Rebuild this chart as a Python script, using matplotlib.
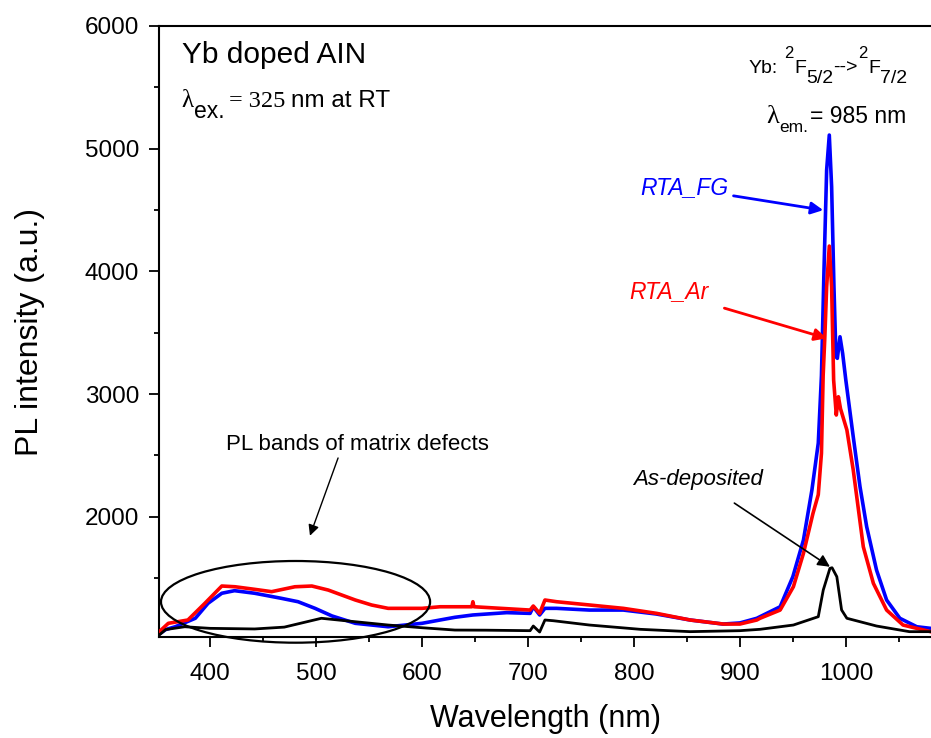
import matplotlib
matplotlib.use("Agg")
import matplotlib.pyplot as plt
from matplotlib.patches import Ellipse
from matplotlib.transforms import offset_copy

plt.rcParams['font.family'] = ['Liberation Sans', 'DejaVu Sans']

# ---- data ----
fg_x = [352, 358, 367, 386, 398, 411, 423, 442, 467, 483, 499, 515, 537, 568, 600,
        617, 631, 648, 680, 702, 705, 711, 716, 727, 758, 790, 821, 853, 884, 900,
        916, 919, 938, 950, 960, 968, 974, 977, 979.4, 981.9, 984.4, 986.6, 988.8,
        990.7, 992, 994.5, 997, 1000, 1007, 1013.4, 1019.7, 1029, 1038.5, 1051, 1067, 1080]
fg_y = [1044, 1080, 1103, 1172, 1294, 1376, 1397, 1376, 1335, 1307, 1253, 1191, 1131, 1103, 1131,
        1158, 1180, 1199, 1218, 1212, 1266, 1199, 1253, 1253, 1239, 1239, 1207, 1158, 1125, 1134,
        1172, 1185, 1266, 1511, 1810, 2218, 2600, 3150, 4011, 4826, 5111, 4690, 3874,
        3304, 3291, 3467, 3331, 3114, 2652, 2244, 1918, 1565, 1321, 1172, 1103, 1090]

ar_x = [352, 360.5, 379, 395, 411, 423.5, 442, 458, 480, 496, 511.5, 537, 552.5, 568, 600,
        617, 631, 647, 648, 649, 702, 705, 711, 716, 727, 758.5, 790, 821.5, 853, 884.4,
        900, 916, 919, 938, 950.5, 960, 969, 974, 977, 978.6, 980.2, 981.9, 984.4, 986.6,
        988.5, 991, 993, 995, 1001, 1007, 1016.5, 1026, 1038.5, 1054, 1080]
ar_y = [1063, 1131, 1158, 1294, 1435, 1429, 1408, 1389, 1429, 1435, 1402, 1321, 1280, 1253, 1253,
        1266, 1266, 1266, 1307, 1266, 1239, 1272, 1212, 1321, 1307, 1280, 1253, 1212, 1158, 1125,
        1125, 1158, 1172, 1239, 1429, 1701, 2027, 2180, 2517, 3150, 3467, 3874, 4206, 3874,
        3114, 2829, 2978, 2880, 2707, 2381, 1755, 1457, 1239, 1117, 1063]

ad_x = [352, 358, 376, 400, 442, 470, 505, 530, 568, 600, 631, 660, 702, 705, 711, 716, 724,
        758, 806, 853, 900, 919, 950.5, 974, 978.7, 985, 987, 991.5, 996, 1001, 1029, 1060, 1080]
ad_y = [1036, 1080, 1103, 1090, 1085, 1100, 1172, 1150, 1117, 1095, 1076, 1075, 1071, 1109, 1060, 1158, 1152,
        1117, 1082, 1063, 1071, 1082, 1117, 1185, 1402, 1579, 1584, 1511, 1240, 1172, 1109, 1063, 1063]

y_ticks = [2000, 3000, 4000, 5000, 6000]
x_ticks = [400, 500, 600, 700, 800, 900, 1000]

W, H = 931, 738
fig = plt.figure(figsize=(W / 100, H / 100), dpi=100)
L, R, T, B = 159.3, 931, 26, 637.3
ax = fig.add_axes([L / W, 1 - B / H, (R - L) / W, (B - T) / H])

ax.plot(ar_x, ar_y, color='#ff0000', lw=2.6, zorder=3)
ax.plot(fg_x, fg_y, color='#0000ff', lw=2.6, zorder=2)
ax.plot(ad_x, ad_y, color='black', lw=2.0, zorder=4)

ax.set_xlim(352, 1080.4)
ax.set_ylim(1017, 6000)
ax.set_xticks(x_ticks)
ax.set_yticks(y_ticks)
ax.set_xticks([450, 550, 650, 750, 850, 950, 1050], minor=True)
ax.set_yticks([1500, 2500, 3500, 4500, 5500], minor=True)
ax.tick_params(which='major', direction='out', length=7.5, width=1.3, labelsize=17.5, pad=7)
ax.tick_params(which='minor', direction='out', length=3.5, width=1.3)
ax.tick_params(axis='x', which='major', pad=11)
for s in ['left', 'bottom', 'top']:
    ax.spines[s].set_linewidth(1.5)
ax.spines['right'].set_visible(False)

ax.set_xlabel('Wavelength (nm)', fontsize=22, labelpad=14)
ax.set_ylabel('PL intensity (a.u.)', fontsize=23, labelpad=29)

renderer = fig.canvas.get_renderer()


def rich(x, y, pieces, ha='left'):
    """pieces: (text, size, dy_px, family, gap_before_px)"""
    widths = []
    for s, size, dy, fam, gap in pieces:
        t = fig.text(0, 0, s, fontsize=size, family=fam)
        widths.append(t.get_window_extent(renderer).width)
        t.remove()
    total = sum(w + p[4] for w, p in zip(widths, pieces))
    cur = 0 if ha == 'left' else -total
    for (s, size, dy, fam, gap), w in zip(pieces, widths):
        cur += gap
        tr = offset_copy(ax.transAxes, fig=fig, x=cur, y=dy, units='dots')
        ax.text(x, y, s, transform=tr, fontsize=size, family=fam, va='baseline', ha='left')
        cur += w


SANS = ['Liberation Sans', 'DejaVu Sans']
SERIF = ['Liberation Serif', 'DejaVu Serif']

ax.text(0.029, 0.940, 'Yb doped AIN', transform=ax.transAxes, fontsize=21.5, va='baseline', ha='left')
rich(0.029, 0.867, [('λ', 18, 0, SERIF, 0), ('ex.', 16.5, -11, SANS, 0.5),
                    ('= 325', 17.5, 0, SERIF, 4), ('nm at RT', 17.5, 0, SANS, 5.5)])
rich(0.9693, 0.9236, [('Yb:', 14, 0, SANS, 0), ('2', 12, 15, SANS, 6), ('F', 14, 0, SANS, 1),
                      ('5/2', 14, -10, SANS, 0), ('-->', 14, 0, SANS, 0), ('2', 12, 15, SANS, 0),
                      ('F', 14, 0, SANS, 1), ('7/2', 14, -10, SANS, 0)], ha='right')
rich(0.9676, 0.8418, [('λ', 19, 0, SERIF, 0), ('em.', 12.5, -9, SANS, 0.5),
                      ('= 985 nm', 16.5, 0, SANS, 1)], ha='right')

ax.annotate('RTA_FG', xy=(978.7, 4499), xytext=(888.8, 4680), color='#0000ff', fontsize=16.5,
            style='italic', ha='right', va='center',
            arrowprops=dict(arrowstyle='-|>', color='#0000ff', lw=2, mutation_scale=18,
                            shrinkA=2, shrinkB=0))
ax.annotate('RTA_Ar', xy=(982, 3454), xytext=(870.2, 3834), color='#ff0000', fontsize=16.5,
            style='italic', ha='right', va='center',
            arrowprops=dict(arrowstyle='-|>', color='#ff0000', lw=2, mutation_scale=18,
                            shrinkA=10, shrinkB=0))
ax.annotate('As-deposited', xy=(985, 1592), xytext=(860.7, 2307), color='black', fontsize=16,
            style='italic', ha='center', va='center',
            arrowprops=dict(arrowstyle='-|>', color='black', lw=1.2, mutation_scale=18,
                            shrinkA=14, shrinkB=0))
ax.annotate('PL bands of matrix defects', xy=(494.2, 1845), xytext=(415, 2587), color='black',
            fontsize=16, ha='left', va='center',
            arrowprops=dict(arrowstyle='-|>', color='black', lw=1.0, mutation_scale=16,
                            shrinkA=0, shrinkB=0, relpos=(0.43, 0.0)))

ax.add_patch(Ellipse((480.6, 1306), 254, 666, fill=False, lw=1.6, ec='black', clip_on=False, zorder=5))

fig.savefig('out.png', dpi=100)
